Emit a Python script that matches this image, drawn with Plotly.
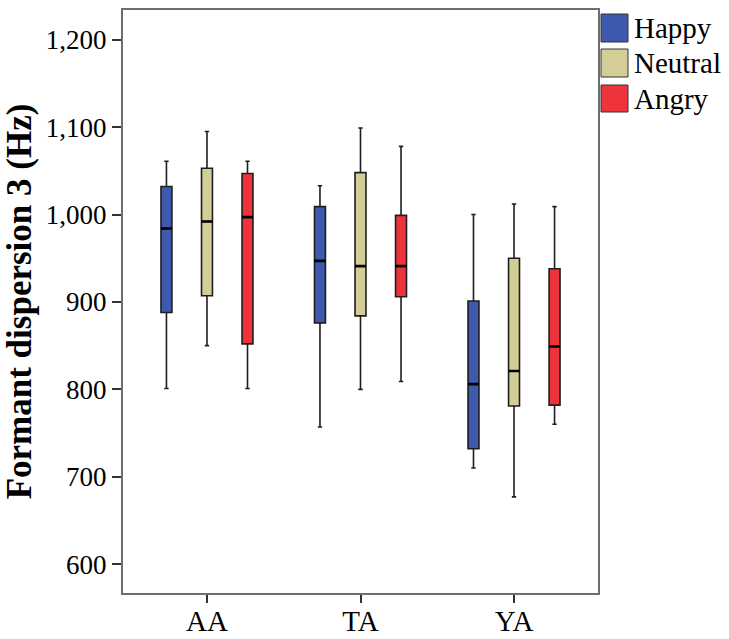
import plotly.graph_objects as go

groups = ["AA", "TA", "YA"]
emotions = ["Happy", "Neutral", "Angry"]
colors = {"Happy": "#3E5AAC", "Neutral": "#D3CE98", "Angry": "#EF333A"}

lowerfence = {
    "Happy":   [801, 757, 710],
    "Neutral": [850, 800, 677],
    "Angry":   [801, 809, 760],
}
q1 = {
    "Happy":   [888, 876, 732],
    "Neutral": [907, 884, 781],
    "Angry":   [852, 906, 782],
}
median = {
    "Happy":   [984, 947, 806],
    "Neutral": [992, 941, 821],
    "Angry":   [997, 941, 849],
}
q3 = {
    "Happy":   [1032, 1009, 901],
    "Neutral": [1053, 1048, 950],
    "Angry":   [1047, 999, 938],
}
upperfence = {
    "Happy":   [1061, 1033, 1000],
    "Neutral": [1095, 1099, 1012],
    "Angry":   [1061, 1078, 1009],
}

y_ticks = [600, 700, 800, 900, 1000, 1100, 1200]
y_title = "Formant dispersion 3 (Hz)"

FONT = "Liberation Serif"

fig = go.Figure()
for e in emotions:
    fig.add_trace(go.Box(
        name=e, x=groups,
        q1=q1[e], median=median[e], q3=q3[e],
        lowerfence=lowerfence[e], upperfence=upperfence[e],
        fillcolor=colors[e],
        line=dict(color="#1e1e1e", width=1.6),
        whiskerwidth=0.4,
        offsetgroup=e, alignmentgroup="g",
        showlegend=False, hoverinfo="skip",
    ))
    # thick median line overlay
    fig.add_trace(go.Box(
        name=e + " median", x=groups,
        q1=median[e], median=median[e], q3=median[e],
        lowerfence=median[e], upperfence=median[e],
        fillcolor="black",
        line=dict(color="black", width=2.6),
        whiskerwidth=0,
        offsetgroup=e, alignmentgroup="g",
        showlegend=False, hoverinfo="skip",
    ))

# custom legend with large swatches
L, R, T, B = 123, 598, 10, 593
leg_x0, leg_x1 = 601, 628
leg_y = [(14, 42), (49, 77), (85, 112)]
W, H = 729, 639
for e, (ya, yb) in zip(emotions, leg_y):
    fig.add_shape(type="rect", xref="paper", yref="paper",
                  x0=(leg_x0 - L) / (R - L), x1=(leg_x1 - L) / (R - L),
                  y0=(B - yb) / (B - T), y1=(B - ya) / (B - T),
                  fillcolor=colors[e], line=dict(color="#333333", width=1))
    fig.add_annotation(xref="paper", yref="paper",
                       x=(632 - L) / (R - L), y=(B - (ya + yb) / 2) / (B - T),
                       text=e, showarrow=False, xanchor="left", yanchor="middle",
                       font=dict(family=FONT, size=29, color="black"))

fig.update_layout(
    width=W, height=H,
    margin=dict(l=L, r=W - R, t=T, b=H - B),
    paper_bgcolor="white", plot_bgcolor="white",
    boxmode="group", boxgap=0.208, boxgroupgap=0.73,
    font=dict(family=FONT, color="black"),
    showlegend=False,
)
fig.update_xaxes(
    type="category", range=[-0.547, 2.547], automargin=False,
    showline=True, linecolor="#6e6e6e", linewidth=2, mirror=True,
    ticks="outside", ticklen=8, tickcolor="#333333", tickwidth=1.5,
    tickfont=dict(family=FONT, size=29), showgrid=False,
    ticklabelstandoff=-7,
)
fig.update_yaxes(
    range=[567, 1234], tickvals=y_ticks, tickformat=",d", automargin=False,
    showline=True, linecolor="#6e6e6e", linewidth=2, mirror=True,
    ticks="outside", ticklen=9, tickcolor="#333333", tickwidth=1.5,
    tickfont=dict(family=FONT, size=27), showgrid=False, zeroline=False,
    title=dict(text="<b>" + y_title + "</b>", font=dict(family=FONT, size=35), standoff=6),
)

fig.write_html("out.html")
